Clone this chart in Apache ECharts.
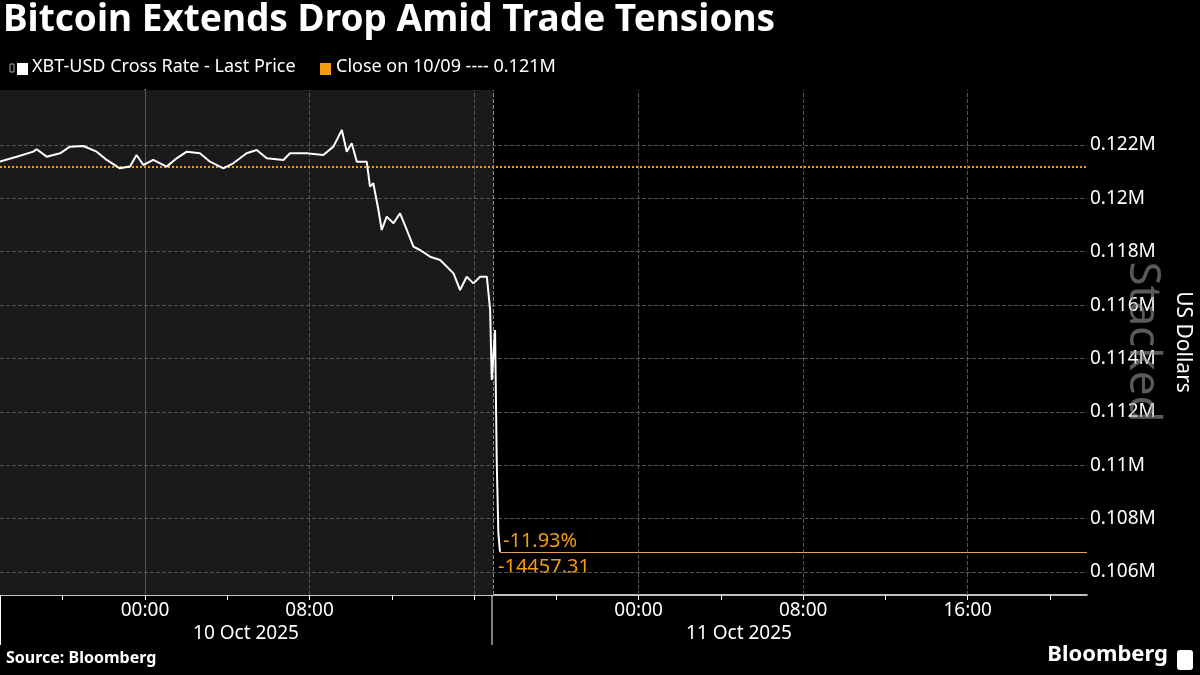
<!DOCTYPE html>
<html>
<head>
<meta charset="utf-8">
<script src="https://cdn.jsdelivr.net/npm/echarts@6/dist/echarts.min.js"></script>
<style>
  html, body { margin: 0; padding: 0; background: #000; }
  #chart { width: 1200px; height: 675px; }
</style>
</head>
<body>
<div id="chart"></div>
<script>
// hours from 00:00 10 Oct 2025
var hours = [-7.05, -6.24, -5.43, -5.27, -4.78, -4.13, -3.65, -3.00, -2.35, -1.86, -1.22, -0.73, -0.41, -0.08,
	0.40, 1.05, 1.54, 2.03, 2.67, 3.16, 3.81, 4.29, 4.94, 5.43, 5.92, 6.73, 7.05, 7.86, 8.67, 9.16, 9.57,
	9.81, 10.05, 10.30, 10.78, 10.94, 11.10, 11.35, 11.51, 11.75, 12.08, 12.40, 12.73, 13.05, 13.37,
	13.86, 14.35, 15.00, 15.32, 15.64, 15.97, 16.29, 16.62, 16.78, 16.86, 17.02, 17.10, 17.18, 17.26];
var prices = [121375, 121562, 121750, 121838, 121562, 121688, 121938, 121963, 121750, 121440, 121125, 121190, 121625, 121250,
	121440, 121190, 121500, 121750, 121688, 121375, 121125, 121313, 121688, 121813, 121500, 121440, 121688, 121688, 121625, 121938, 122562,
	121750, 122063, 121375, 121375, 120440, 120565, 119565, 118815, 119315, 119065, 119440, 118815, 118190, 118065,
	117815, 117690, 117190, 116565, 117065, 116815, 117065, 117065, 115820, 113200, 115070, 110200, 107470, 106760];
var prevClose = 121190;
var lastPrice = 106733;
var nowHour = 16.95;
var xLabelHours = [0, 8, 24, 32, 40];
var xLabelText = ['00:00', '08:00', '00:00', '08:00', '16:00'];
var xTickHours = [-4, 0, 4, 8, 12, 16, 20, 24, 28, 32, 36, 40, 44];
var xGridHours = [0, 8, 16, 24, 32, 40];
var yLabels = [106000, 108000, 110000, 112000, 114000, 116000, 118000, 120000, 122000];
var yTicks = [106000, 107000, 108000, 109000, 110000, 111000, 112000, 113000, 114000, 115000, 116000, 117000, 118000, 119000, 120000, 121000, 122000, 123000];

var font = 'Noto Sans';
var chart = echarts.init(document.getElementById('chart'));

var gridLines = xGridHours.map(function (h) {
	return { xAxis: h, lineStyle: { type: h === 0 ? 'solid' : 'dashed', color: '#555' } };
}).concat(yLabels.map(function (v) {
	return { yAxis: v, lineStyle: { type: 'dashed', color: '#555' } };
}));

chart.setOption({
	backgroundColor: '#000',
	animation: false,
	textStyle: { fontFamily: font },
	grid: { left: 0, right: 113, top: 90, bottom: 80 },
	xAxis: {
		type: 'value',
		min: -7.05,
		max: 45.8,
		axisLine: { lineStyle: { color: '#fff', width: 1.5 } },
		axisTick: { customValues: xTickHours, length: 5, lineStyle: { color: '#fff' } },
		axisLabel: {
			customValues: xLabelHours,
			color: '#fff', fontSize: 19, margin: 6,
			formatter: function (v) { return xLabelText[xLabelHours.indexOf(v)]; }
		},
		splitLine: { show: false }
	},
	yAxis: {
		type: 'value',
		position: 'right',
		min: 105140,
		max: 124060,
		axisLine: { show: true, symbol: ['none', 'arrow'], symbolSize: [8, 10], lineStyle: { color: '#fff', width: 1.5 } },
		axisTick: { show: true, customValues: yTicks, length: 5, lineStyle: { color: '#fff' } },
		axisLabel: {
			customValues: yLabels,
			color: '#fff', fontSize: 19, margin: 3,
			formatter: function (v) { return (v / 1e6) + 'M'; }
		},
		splitLine: { show: false }
	},
	series: [{
		type: 'line',
		data: hours.map(function (h, i) { return [h, prices[i]]; }),
		symbol: 'none',
		lineStyle: { color: '#fff', width: 2 },
		markArea: {
			silent: true,
			itemStyle: { color: '#1a1a1a' },
			data: [[{ xAxis: -7.05 }, { xAxis: nowHour }]]
		},
		markLine: {
			silent: true,
			symbol: 'none',
			label: { show: false },
			data: gridLines.concat([
				{ xAxis: nowHour, lineStyle: { type: 'dashed', color: '#888' } },
				{ yAxis: prevClose, lineStyle: { type: 'dotted', color: '#f39c12', width: 2 } },
				[{ coord: [17.26, lastPrice], lineStyle: { type: 'solid', color: '#e0a060', width: 1 } }, { coord: [45.8, lastPrice] }]
			])
		},
		z: 5
	}],
	graphic: [
		{ type: 'text', left: 3, top: 2, style: { text: 'Bitcoin Extends Drop Amid Trade Tensions', fill: '#fff', font: 'bold 37px ' + font } },
		{ type: 'rect', shape: { x: 10, y: 64, width: 4, height: 8 }, style: { stroke: '#aaa', fill: 'none', lineWidth: 1 } },
		{ type: 'rect', shape: { x: 17, y: 63, width: 11, height: 12 }, style: { fill: '#fff' } },
		{ type: 'text', left: 32, top: 58, style: { text: 'XBT-USD Cross Rate - Last Price', fill: '#fff', font: '18px ' + font } },
		{ type: 'rect', shape: { x: 320, y: 63, width: 11, height: 12 }, style: { fill: '#f39c12' } },
		{ type: 'text', left: 336, top: 58, style: { text: 'Close on 10/09 ---- 0.121M', fill: '#fff', font: '18px ' + font } },
		{ type: 'text', x: 503, y: 541, style: { text: '-11.93%', fill: '#f39c12', font: '20px ' + font, verticalAlign: 'middle' } },
		{ type: 'text', x: 498, y: 567, style: { text: '-14457.31', fill: '#f39c12', font: '20px ' + font, verticalAlign: 'middle' } },
		{ type: 'line', shape: { x1: 492, y1: 595, x2: 492, y2: 645 }, style: { stroke: '#fff', lineWidth: 1 } },
		{ type: 'line', shape: { x1: 0.5, y1: 595, x2: 0.5, y2: 645 }, style: { stroke: '#fff', lineWidth: 1 } },
		{ type: 'text', x: 246, y: 634, style: { text: '10 Oct 2025', fill: '#fff', font: '19px ' + font, align: 'center', verticalAlign: 'middle' } },
		{ type: 'text', x: 739, y: 634, style: { text: '11 Oct 2025', fill: '#fff', font: '19px ' + font, align: 'center', verticalAlign: 'middle' } },
		{ type: 'text', x: 1183, y: 342, rotation: -Math.PI / 2, style: { text: 'US Dollars', fill: '#fff', font: '21px ' + font, align: 'center', verticalAlign: 'middle' } },
		{ type: 'text', x: 1143, y: 342, rotation: -Math.PI / 2, z: 1, style: { text: 'Stacked', fill: 'rgba(150,150,150,0.6)', font: '44px ' + font, align: 'center', verticalAlign: 'middle' } },
		{ type: 'text', left: 6, top: 650, style: { text: 'Source: Bloomberg', fill: '#fff', font: 'bold 16px ' + font } },
		{ type: 'text', right: 32, top: 644, style: { text: 'Bloomberg', fill: '#fff', font: 'bold 22px ' + font } },
		{ type: 'rect', shape: { x: 1177, y: 650, width: 16, height: 20, r: 3 }, style: { fill: '#fff' } }
	]
});
</script>
</body>
</html>
